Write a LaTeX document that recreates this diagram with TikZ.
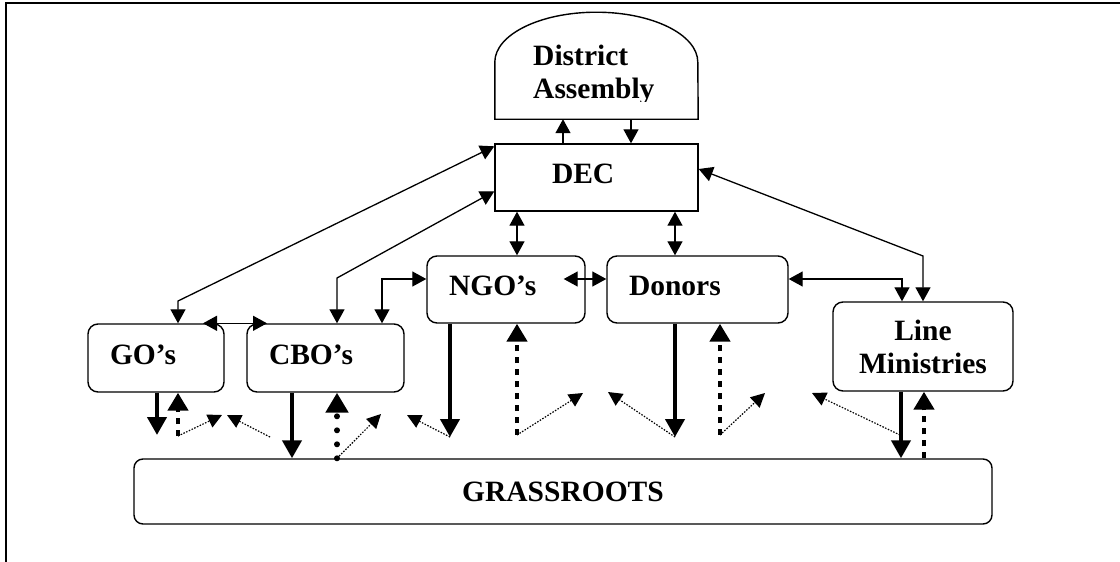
\documentclass[tikz,border=0pt]{standalone}
\usepackage{fontspec}
\setmainfont{Liberation Serif}
\usetikzlibrary{arrows.meta}
\begin{document}
\begin{tikzpicture}[x=1pt,y=-1pt,
  lbl/.style={font=\bfseries\fontsize{29.5}{33}\selectfont},
  rbox/.style={draw, line width=1.4pt, rounded corners=10pt, inner xsep=22pt, inner ysep=0pt, lbl},
  sbox/.style={draw, line width=1.4pt, inner xsep=22pt, inner ysep=0pt, lbl},
  lift/.style={text depth=7pt},
  conn/.style={line width=1.3pt, {Triangle[width=15pt,length=14pt]}-{Triangle[width=15pt,length=14pt]}},
  oneway/.style={line width=1.3pt, -{Triangle[width=15pt,length=14pt]}},
  down/.style={line width=4.2pt, -{Triangle[width=19pt,length=18pt]}},
  upsq/.style={line width=4.5pt, dash pattern=on 6pt off 6pt, -{Triangle[width=20pt,length=18pt]}},
  upround/.style={line width=6pt, line cap=round, dash pattern=on 0pt off 14pt, -{Triangle[width=22pt,length=20pt]}},
  fb/.style={line width=1.2pt, dash pattern=on 1.5pt off 1.5pt, -{Triangle[width=14pt,length=14pt]}}]
\useasboundingbox (0,0) rectangle (1120,562);
% frame
\draw[line width=2pt] (6,562) -- (6,3) -- (1120,3);

% District Assembly
\node[minimum width=203pt, minimum height=107pt, inner sep=0pt] (DA) at (596.5,65.5) {};
\draw[line width=1.4pt] (DA.south west) -- ([yshift=57pt]DA.south west)
  arc[start angle=180, end angle=0, x radius=101.5pt, y radius=50pt]
  -- (DA.south east) -- cycle;
\begin{scope}
\clip (480,0) rectangle (720,101);
\node[lbl, align=left, anchor=west, inner sep=0pt] (DAtext) at (533,75) {District\\Assembly};
\end{scope}

% boxes
\node[sbox, lift, text width=159pt, align=left, minimum height=67pt] (DEC) at (596.5,177.5) {\hspace*{35pt}DEC};
\node[rbox, lift, text width=92pt, align=left, minimum height=68pt] (GO) at (156,358) {GO’s};
\node[rbox, lift, text width=113pt, align=left, minimum height=68pt] (CBO) at (325.5,358) {CBO’s};
\node[rbox, lift, text width=114pt, align=left, minimum height=67pt] (NGO) at (506,289.5) {NGO’s};
\node[rbox, lift, text width=137pt, align=left, minimum height=67pt] (DON) at (697.5,289.5) {Donors};
\node[rbox, text width=136pt, align=center, minimum height=89pt] (LM) at (923,346.5) {Line\\Ministries};
\node[rbox, rounded corners=9pt, text width=814pt, align=center, minimum height=65pt] (GR) at (563,491.5) {GRASSROOTS};

% DA <-> DEC
\draw[oneway] ([xshift=-33.5pt]DEC.north) -- ([xshift=-33.5pt]DA.south);
\draw[oneway] ([xshift=34.5pt]DA.south) -- ([xshift=34.5pt]DEC.north);

% DEC links
\draw[conn] ([yshift=-3pt]DEC.north west) -- (178,301) -- ([xshift=22pt]GO.north);
\draw[conn] ([yshift=-48pt]DEC.north west) -- (337,278) -- ([xshift=11.5pt]CBO.north);
\draw[conn] ([xshift=-79.5pt]DEC.south) -- ([xshift=11pt]NGO.north);
\draw[conn] ([xshift=78.5pt]DEC.south) -- ([xshift=-22.5pt]DON.north);
\draw[conn] ([yshift=8.5pt]DEC.east) -- (923,256) -- (LM.north);

% peer links
\draw[conn] ([xshift=47pt]GO.north) -- ([xshift=-58.5pt]CBO.north);
\draw[conn] ([xshift=56.5pt]CBO.north) |- ([yshift=10.5pt]NGO.west);
\draw[conn] ([xshift=-22pt,yshift=10.5pt]NGO.east) -- ([yshift=10.5pt]DON.west);
\draw[conn] ([yshift=10.5pt]DON.east) -| ([xshift=-21pt]LM.north);

% free ends
\coordinate (g1) at (157,435);
\coordinate (g2) at (178,436);
\coordinate (n1) at (450,437);
\coordinate (n2) at (517,435);
\coordinate (d1) at (675,437);
\coordinate (d2) at (720,435);
\coordinate (l1) at (900,435);
\coordinate (c2) at ([xshift=11.5pt]CBO.south |- GR.north);
\coordinate (t1) at (222,415);
\coordinate (t2) at (227,415);
\coordinate (t3) at (381,414);
\coordinate (t4) at (407,415);
\coordinate (t5) at (583,393);
\coordinate (t6) at (608,392);
\coordinate (t7) at (765,393);
\coordinate (t8) at (812,393);
\coordinate (s2) at (270,437);

% thick arrows
\draw[down] ([xshift=1pt]GO.south) -- (g1);
\draw[upsq] (g2) -- ([xshift=22pt]GO.south);
\draw[down] ([xshift=-33.5pt]CBO.south) -- ([xshift=-33.5pt]CBO.south |- GR.north);
\draw[upround] (c2) -- ([xshift=11.5pt]CBO.south);
\draw[down] ([xshift=-56pt]NGO.south) -- (n1);
\draw[upsq] (n2) -- ([xshift=11pt]NGO.south);
\draw[down] ([xshift=-22.5pt]DON.south) -- (d1);
\draw[upsq] (d2) -- ([xshift=22.5pt]DON.south);
\draw[down] ([xshift=-22pt]LM.south) -- ([xshift=-22pt]LM.south |- GR.north);
\draw[upsq] ([xshift=1pt]LM.south |- GR.north) -- ([xshift=1pt]LM.south);

% dotted feedback arrows
\draw[fb] (g2) -- (t1);
\draw[fb] (s2) -- (t2);
\draw[fb] (c2) -- (t3);
\draw[fb] (n1) -- (t4);
\draw[fb] (n2) -- (t5);
\draw[fb] (d1) -- (t6);
\draw[fb] (d2) -- (t7);
\draw[fb] (l1) -- (t8);
\end{tikzpicture}
\end{document}
